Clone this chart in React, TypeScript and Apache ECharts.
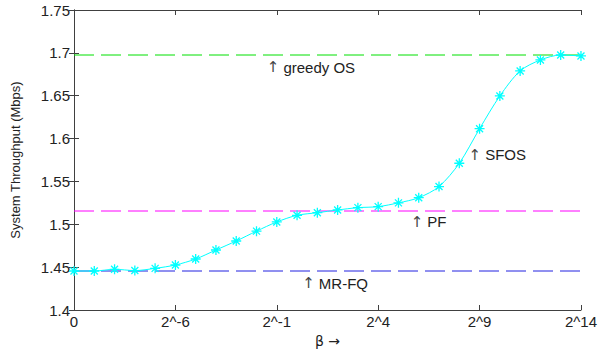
import React, { useEffect, useRef } from "react";
import * as echarts from "echarts";

// x index k corresponds to beta = 2^(k-11), except index 0 which is labelled "0"
const xIndex = [0,1,2,3,4,5,6,7,8,9,10,11,12,13,14,15,16,17,18,19,20,21,22,23,24,25];
const sfos = [1.4455,1.4455,1.4475,1.4460,1.4486,1.4525,1.4595,1.4700,1.4805,1.4920,1.5027,1.5105,1.5135,1.5167,1.5194,1.5206,1.5250,1.5310,1.5440,1.5712,1.6115,1.6497,1.6789,1.6917,1.6975,1.6964];
const greedyOS = 1.6975;
const pf = 1.5155;
const mrfq = 1.4455;
const xTickLabels = ["0", "2^-6", "2^-1", "2^4", "2^9", "2^14"];
const annotations = [
  { label: "greedy OS", x: 9.5, y: 1.6835 },
  { label: "SFOS", x: 19.45, y: 1.581 },
  { label: "PF", x: 16.6, y: 1.5027 },
  { label: "MR-FQ", x: 11.25, y: 1.4315 },
];

const FONT = "Liberation Sans, Arial, sans-serif";
const TXT = "#222";
const AX = "#404040";

export default function App() {
  const ref = useRef<HTMLDivElement>(null);
  useEffect(() => {
    document.body.style.margin = "0";
    const chart = echarts.init(ref.current!, null, { renderer: "svg" });
    const asterisk =
      "path://M0,-5L0,5M-5,0L5,0M-3.5,-3.5L3.5,3.5M-3.5,3.5L3.5,-3.5";
    const axisCommon = {
      type: "value" as const,
      axisLine: { show: true, lineStyle: { color: AX, width: 1 } },
      axisTick: { show: true, inside: true, length: 5, lineStyle: { color: AX } },
      splitLine: { show: false },
    };
    const refLine = (v: number, color: string) => ({
      type: "line",
      data: [[0, v], [25, v]],
      symbol: "none",
      silent: true,
      lineStyle: { color, type: [20, 7], width: 1 },
      z: 2,
    });
    chart.setOption({
      animation: false,
      backgroundColor: "#fff",
      grid: { left: 74, right: 17, top: 10, bottom: 46, containLabel: false },
      xAxis: [
        {
          ...axisCommon,
          min: 0,
          max: 25,
          interval: 5,
          position: "bottom",
          name: "\u03b2 \u2192",
          nameLocation: "middle",
          nameGap: 23,
          nameTextStyle: { fontFamily: "DejaVu Sans, sans-serif", fontSize: 14, color: TXT },
          axisLabel: {
            fontFamily: FONT,
            fontSize: 15,
            color: TXT,
            margin: 4,
            formatter: (v: number) => xTickLabels[Math.round(v / 5)] ?? "",
          },
        },
        {
          ...axisCommon,
          min: 0,
          max: 25,
          interval: 5,
          position: "top",
          axisLabel: { show: false },
        },
      ],
      yAxis: [
        {
          ...axisCommon,
          min: 1.4,
          max: 1.75,
          interval: 0.05,
          position: "left",
          name: "System Throughput (Mbps)",
          nameLocation: "middle",
          nameGap: 52,
          nameTextStyle: { fontFamily: FONT, fontSize: 13, color: TXT },
          axisLabel: {
            fontFamily: FONT,
            fontSize: 15,
            color: TXT,
            margin: 4,
            formatter: (v: number) => (Math.round(v * 100) / 100).toString(),
          },
        },
        {
          ...axisCommon,
          min: 1.4,
          max: 1.75,
          interval: 0.05,
          position: "right",
          axisLabel: { show: false },
        },
      ],
      series: [
        refLine(greedyOS, "#00e000"),
        refLine(pf, "#ff00ff"),
        refLine(mrfq, "#2020e0"),
        {
          type: "line",
          smooth: 0.3,
          data: xIndex.map((x, i) => [x, sfos[i]]),
          lineStyle: { color: "#00ffff", width: 1 },
          symbol: asterisk,
          symbolSize: 10,
          itemStyle: { color: "#00ffff", borderColor: "#00ffff", borderWidth: 1.3 },
          z: 5,
          markPoint: {
            silent: true,
            symbol: "circle",
            symbolSize: 0,
            label: {
              show: true,
              position: "right",
              distance: 0,
              fontFamily: FONT,
              fontSize: 15,
              color: TXT,
              formatter: (p: any) => "{a|\u2191} " + p.name,
              rich: {
                a: { fontFamily: "DejaVu Sans, sans-serif", fontSize: 15, color: "#444" },
              },
            },
            data: annotations.map((a) => ({ name: a.label, coord: [a.x, a.y] })),
          },
        },
      ],
    });
    return () => chart.dispose();
  }, []);
  return <div ref={ref} style={{ width: 600, height: 356 }} />;
}
